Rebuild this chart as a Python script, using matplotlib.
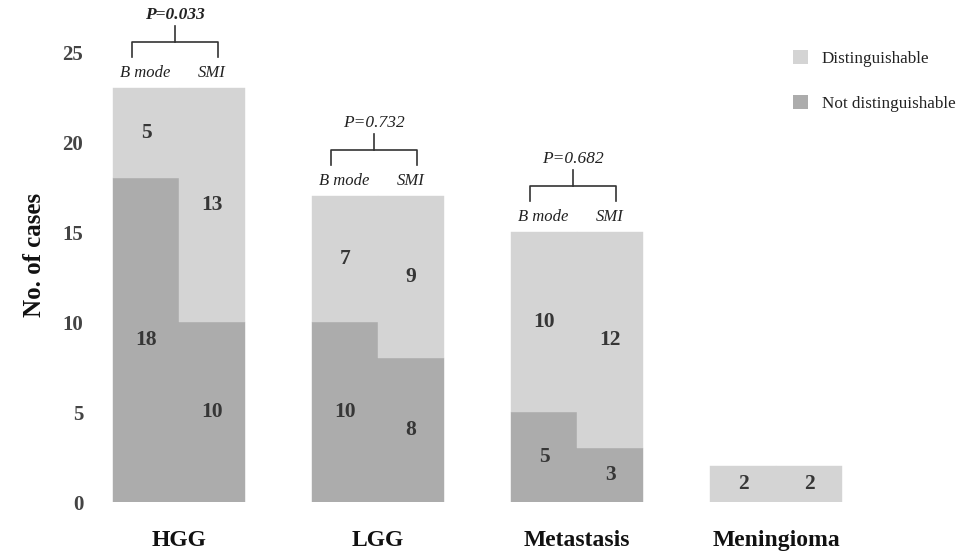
import numpy as np
import matplotlib.pyplot as plt
from matplotlib.patches import Patch

plt.rcParams['font.family'] = ['Liberation Serif', 'DejaVu Serif']

# données
groups = ["HGG", "LGG", "Metastasis", "Meningioma"]
bmode_not = [18, 10, 5, 0]
bmode_dist = [5, 7, 10, 2]
smi_not = [10, 8, 3, 0]
smi_dist = [13, 9, 12, 2]
pvalues = ["P=0.033", "P=0.732", "P=0.682", None]
p_bold = [True, False, False, False]

c_dist = "#d4d4d4"
c_not = "#acacac"
c_txt = "#363636"

fig = plt.figure(figsize=(9.66, 5.57), dpi=100)
# axes placé en pixels : y=0 à 502 px, 18 px par unité
ax = fig.add_axes([100/966, 55/557, 800/966, 495/557])
ax.set_ylim(0, 27.5)
ax.set_xlim((100-179)/199, (900-179)/199)

x = np.arange(len(groups))
w = 0.332
xb = x - w/2
xs = x + w/2

ax.bar(xb, bmode_not, w, color=c_not, edgecolor=c_not, linewidth=0.3)
ax.bar(xb, bmode_dist, w, bottom=bmode_not, color=c_dist, edgecolor=c_dist, linewidth=0.3)
ax.bar(xs, smi_not, w, color=c_not, edgecolor=c_not, linewidth=0.3)
ax.bar(xs, smi_dist, w, bottom=smi_not, color=c_dist, edgecolor=c_dist, linewidth=0.3)

# étiquettes des valeurs, centrées dans chaque segment
for xpos, low, high in [(xb, bmode_not, bmode_dist), (xs, smi_not, smi_dist)]:
    for i in range(len(groups)):
        if low[i] > 0:
            ax.text(xpos[i], low[i]/2, str(low[i]), ha="center", va="center",
                    fontsize=15.5, fontweight="bold", color=c_txt)
        if high[i] > 0:
            ax.text(xpos[i], low[i] + high[i]/2, str(high[i]), ha="center", va="center",
                    fontsize=15.5, fontweight="bold", color=c_txt)

# crochets avec p-valeurs
for i in range(len(groups)):
    if pvalues[i] is None:
        continue
    top = max(bmode_not[i] + bmode_dist[i], smi_not[i] + smi_dist[i])
    x1, x2 = x[i] - 0.235, x[i] + 0.195
    ax.plot([x1, x1, x2, x2], [top + 1.7, top + 2.55, top + 2.55, top + 1.7],
            color="#333333", lw=1.2)
    ax.plot([(x1+x2)/2, (x1+x2)/2], [top + 2.55, top + 3.45], color="#333333", lw=1.2)
    ax.text(x[i] - 0.17, top + 0.85, "B mode", ha="center", va="center",
            fontsize=12, style="italic", color="#222222")
    ax.text(x[i] + 0.165, top + 0.85, "SMI", ha="center", va="center",
            fontsize=12, style="italic", color="#222222")
    ax.text((x1+x2)/2, top + 4.05, pvalues[i], ha="center", va="center",
            fontsize=12.5, style="italic", color="#222222",
            fontweight="bold" if p_bold[i] else "normal")

ax.set_xticks(x)
ax.set_xticklabels(groups, fontsize=17, fontweight="bold", color="#111111")
ax.set_yticks([0, 5, 10, 15, 20, 25])
ax.set_yticklabels(["0", "5", "10", "15", "20", "25"], fontsize=15,
                   fontweight="bold", color="#444444")
ax.tick_params(axis="both", length=0)
ax.tick_params(axis="x", pad=20)
ax.tick_params(axis="y", pad=12)
for s in ax.spines.values():
    s.set_visible(False)
ax.set_ylabel("No. of cases", fontsize=18, fontweight="bold", color="#111111", labelpad=12)

handles = [Patch(facecolor=c_dist, edgecolor="none", label="Distinguishable"),
           Patch(facecolor=c_not, edgecolor="none", label="Not distinguishable")]
fig.legend(handles=handles, loc="upper left", bbox_to_anchor=(790/966, 1 - 47/557),
           frameon=False, fontsize=12.3, handlelength=0.85, handleheight=0.85,
           handletextpad=0.8, labelspacing=1.65, labelcolor="#222222",
           borderaxespad=0, borderpad=0.2)

fig.savefig("out.png", dpi=100)
